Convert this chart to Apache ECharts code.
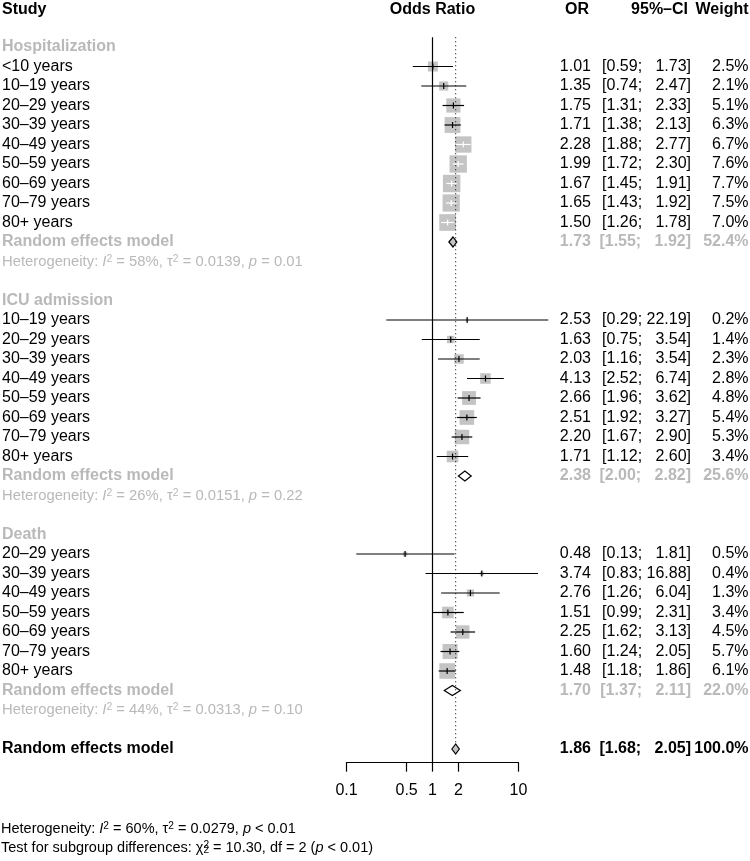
<!DOCTYPE html>
<html style="height: 100%">
<head>
    <meta charset="UTF-8">
    <title>Odds Ratio forest plot</title>
</head>
<body style="height: 100%; margin: 0; background: #fff">
    <div id="container" style="width: 750px; height: 861px"></div>

    <script src="https://cdn.jsdelivr.net/npm/echarts@6/dist/echarts.min.js"></script>

    <script type="text/javascript">
        // ---- data ----
        var groupNames = ['Hospitalization', 'ICU admission', 'Death'];

        var hospLabels = ['<10 years', '10–19 years', '20–29 years', '30–39 years', '40–49 years', '50–59 years', '60–69 years', '70–79 years', '80+ years'];
        var hospOR    = [1.01, 1.35, 1.75, 1.71, 2.28, 1.99, 1.67, 1.65, 1.50];
        var hospLower = [0.59, 0.74, 1.31, 1.38, 1.88, 1.72, 1.45, 1.43, 1.26];
        var hospUpper = [1.73, 2.47, 2.33, 2.13, 2.77, 2.30, 1.91, 1.92, 1.78];
        var hospWeight = [2.5, 2.1, 5.1, 6.3, 6.7, 7.6, 7.7, 7.5, 7.0];

        var icuLabels = ['10–19 years', '20–29 years', '30–39 years', '40–49 years', '50–59 years', '60–69 years', '70–79 years', '80+ years'];
        var icuOR    = [2.53, 1.63, 2.03, 4.13, 2.66, 2.51, 2.20, 1.71];
        var icuLower = [0.29, 0.75, 1.16, 2.52, 1.96, 1.92, 1.67, 1.12];
        var icuUpper = [22.19, 3.54, 3.54, 6.74, 3.62, 3.27, 2.90, 2.60];
        var icuWeight = [0.2, 1.4, 2.3, 2.8, 4.8, 5.4, 5.3, 3.4];

        var deathLabels = ['20–29 years', '30–39 years', '40–49 years', '50–59 years', '60–69 years', '70–79 years', '80+ years'];
        var deathOR    = [0.48, 3.74, 2.76, 1.51, 2.25, 1.60, 1.48];
        var deathLower = [0.13, 0.83, 1.26, 0.99, 1.62, 1.24, 1.18];
        var deathUpper = [1.81, 16.88, 6.04, 2.31, 3.13, 2.05, 1.86];
        var deathWeight = [0.5, 0.4, 1.3, 3.4, 4.5, 5.7, 6.1];

        // subgroup random effects models
        var reOR     = [1.73, 2.38, 1.70];
        var reLower  = [1.55, 2.00, 1.37];
        var reUpper  = [1.92, 2.82, 2.11];
        var reWeight = [52.4, 25.6, 22.0];
        var hetI2    = ['58%', '26%', '44%'];
        var hetTau2  = ['0.0139', '0.0151', '0.0313'];
        var hetP     = ['= 0.01', '= 0.22', '= 0.10'];

        // overall model
        var allOR = 1.86, allLower = 1.68, allUpper = 2.05, allWeight = 100.0;
        var allI2 = '60%', allTau2 = '0.0279', allP = '< 0.01';
        var subgroupChi2 = '10.30', subgroupDf = '2', subgroupP = '< 0.01';

        var xTicks = [0.1, 0.5, 1, 2, 10];

        // ---- build the rows ----
        var groups = [
            {labels: hospLabels, or: hospOR, lo: hospLower, hi: hospUpper, w: hospWeight},
            {labels: icuLabels, or: icuOR, lo: icuLower, hi: icuUpper, w: icuWeight},
            {labels: deathLabels, or: deathOR, lo: deathLower, hi: deathUpper, w: deathWeight}
        ];

        var rows = [];
        var studyData = [];
        var diamondData = [];
        var r = 0;
        groups.forEach(function (g, gi) {
            rows.push({row: r++, type: 'heading', label: groupNames[gi]});
            g.labels.forEach(function (lab, i) {
                rows.push({row: r, type: 'study', label: lab, or: g.or[i], lo: g.lo[i], hi: g.hi[i], w: g.w[i]});
                studyData.push([g.or[i], g.lo[i], g.hi[i], g.w[i], r]);
                r++;
            });
            rows.push({row: r, type: 'pooled', label: 'Random effects model', or: reOR[gi], lo: reLower[gi], hi: reUpper[gi], w: reWeight[gi]});
            diamondData.push([reOR[gi], reLower[gi], reUpper[gi], r, gi === 0 ? 1 : 0]);
            r++;
            rows.push({row: r++, type: 'het', gi: gi});
            r++;
        });
        rows.push({row: r, type: 'overall', label: 'Random effects model', or: allOR, lo: allLower, hi: allUpper, w: allWeight});
        diamondData.push([allOR, allLower, allUpper, r, 1]);
        var overallRow = r;
        rows.push({row: -1.93, type: 'header'});
        rows.push({row: overallRow + 4.1, type: 'foot1'});
        rows.push({row: overallRow + 5.08, type: 'foot2'});

        var FONT = "'Liberation Sans', Arial, Helvetica, sans-serif";
        var GRAY = '#b9b9b9';
        var SQUARE = '#c4c4c4';
        var HET_FS = 14.8;
        var FOOT_FS = 14.5;

        function pad(v, n) {
            var s = v.toFixed(2);
            while (s.length < n) s = '  ' + s;
            return s;
        }
        function fmtCI(lo, hi) {
            return '[' + pad(lo, 4) + '; ' + pad(hi, 5) + ']';
        }

        function txt(x, y, text, align, color, bold, size) {
            return {
                type: 'text', x: x, y: y,
                style: {
                    text: text, fill: color, align: align, verticalAlign: 'middle',
                    fontFamily: FONT, fontSize: size || 16, fontWeight: bold ? 'bold' : 'normal'
                }
            };
        }

        function richTxt(x, y, text, color, size) {
            return {
                type: 'text', x: x, y: y,
                style: {
                    text: text, fill: color, align: 'left', verticalAlign: 'middle',
                    fontFamily: FONT, fontSize: size,
                    rich: {
                        n: {fontFamily: FONT, fontSize: size, fill: color},
                        i: {fontFamily: FONT, fontSize: size, fill: color, fontStyle: 'italic'},
                        sup: {fontFamily: FONT, fontSize: size * 0.7, fill: color, verticalAlign: 'top'},
                        sup0: {fontFamily: FONT, fontSize: size * 0.7, fill: color, verticalAlign: 'top', width: 0},
                        sub: {fontFamily: FONT, fontSize: size * 0.7, fill: color, verticalAlign: 'bottom'}
                    }
                }
            };
        }

        function hetString(i2, tau2, p) {
            return '{n|Heterogeneity: }{i|I}{sup|2}{n| = ' + i2 + ', τ}{sup|2}{n| = ' + tau2 + ', }{i|p}{n| ' + p + '}';
        }

        var COL_OR = 591, COL_CI = 691, COL_W = 748.5, COL_LAB = 2;

        function renderText(params, api) {
            var d = rows[params.dataIndex];
            var y = api.coord([1, d.row])[1];
            var kids = [];
            if (d.type === 'header') {
                kids.push(txt(COL_LAB, y, 'Study', 'left', '#000', true));
                kids.push(txt(api.coord([1, d.row])[0], y, 'Odds Ratio', 'center', '#000', true));
                kids.push(txt(COL_OR - 2, y, 'OR', 'right', '#000', true));
                kids.push(txt(COL_CI - 3, y, '95%–CI', 'right', '#000', true));
                kids.push(txt(COL_W, y, 'Weight', 'right', '#000', true));
            } else if (d.type === 'heading') {
                kids.push(txt(COL_LAB, y, d.label, 'left', GRAY, true));
            } else if (d.type === 'het') {
                kids.push(richTxt(COL_LAB, y, hetString(hetI2[d.gi], hetTau2[d.gi], hetP[d.gi]), GRAY, HET_FS));
            } else if (d.type === 'foot1') {
                kids.push(richTxt(COL_LAB - 1, y, hetString(allI2, allTau2, allP), '#000', FOOT_FS));
            } else if (d.type === 'foot2') {
                kids.push(richTxt(COL_LAB - 1, y, '{n|Test for subgroup differences: χ}{sup0|2}{sub|' + subgroupDf +
                    '}{n| = ' + subgroupChi2 + ', df = ' + subgroupDf + ' (}{i|p}{n| ' + subgroupP + ')}', '#000', FOOT_FS));
            } else {
                var color = d.type === 'pooled' ? GRAY : '#000';
                var bold = d.type !== 'study';
                kids.push(txt(COL_LAB, y, d.label, 'left', color, bold));
                kids.push(txt(COL_OR, y, d.or.toFixed(2), 'right', color, bold));
                kids.push(txt(COL_CI, y, fmtCI(d.lo, d.hi), 'right', color, bold));
                kids.push(txt(COL_W, y, d.w.toFixed(1) + '%', 'right', color, bold));
            }
            return {type: 'group', children: kids};
        }

        function renderStudy(params, api) {
            var c = api.coord([api.value(0), api.value(4)]);
            var xLo = api.coord([api.value(1), api.value(4)])[0];
            var xHi = api.coord([api.value(2), api.value(4)])[0];
            var side = 6.3 * Math.sqrt(api.value(3));
            var half = side / 2;
            var inside = xLo >= c[0] - half && xHi <= c[0] + half;
            var lc = inside ? '#fff' : '#000';
            return {
                type: 'group',
                children: [
                    {type: 'rect', shape: {x: c[0] - half, y: c[1] - half, width: side, height: side}, style: {fill: SQUARE}},
                    {type: 'line', shape: {x1: xLo, y1: c[1], x2: xHi, y2: c[1]}, style: {stroke: lc, lineWidth: 1.2}},
                    {type: 'line', shape: {x1: c[0], y1: c[1] - 3, x2: c[0], y2: c[1] + 3}, style: {stroke: lc, lineWidth: 1.2}}
                ]
            };
        }

        function renderDiamond(params, api) {
            var c = api.coord([api.value(0), api.value(3)]);
            var xLo = api.coord([api.value(1), api.value(3)])[0];
            var xHi = api.coord([api.value(2), api.value(3)])[0];
            var h = 5;
            return {
                type: 'polygon',
                shape: {points: [[xLo, c[1]], [c[0], c[1] - h], [xHi, c[1]], [c[0], c[1] + h]]},
                style: {fill: api.value(4) ? SQUARE : '#fff', stroke: '#000', lineWidth: 1.2}
            };
        }

        var dom = document.getElementById('container');
        var myChart = echarts.init(dom, null, {renderer: 'canvas'});

        var option = {
            animation: false,
            backgroundColor: '#fff',
            grid: {left: 346.5, right: 231.5, top: 37.25, bottom: 98.35, outerBoundsMode: 'none'},
            xAxis: {
                type: 'log', logBase: 10, min: 0.1, max: 10, position: 'bottom',
                splitLine: {show: false},
                axisLine: {onZero: false, lineStyle: {color: '#000', width: 1.2}},
                axisTick: {customValues: xTicks, length: 9, lineStyle: {color: '#000', width: 1.2}},
                axisLabel: {
                    customValues: xTicks, margin: 20, color: '#000', fontSize: 16, fontFamily: FONT,
                    formatter: function (v) { return String(+(+v).toPrecision(2)); }
                }
            },
            yAxis: {type: 'value', inverse: true, min: -0.5, max: overallRow + 0.7, show: false},
            series: [
                {
                    type: 'line', silent: true, symbol: 'none',
                    data: [[allOR, -0.5], [allOR, overallRow - 0.26]],
                    lineStyle: {color: '#000', width: 1, type: [1, 3]},
                    markLine: {
                        silent: true, symbol: 'none', label: {show: false},
                        lineStyle: {color: '#000', width: 1.2, type: 'solid'},
                        data: [{xAxis: 1}]
                    }
                },
                {
                    type: 'custom', renderItem: renderStudy, clip: false, silent: true,
                    dimensions: ['or', 'lo', 'hi', 'w', 'row'],
                    encode: {x: 0, y: 4},
                    data: studyData
                },
                {
                    type: 'custom', renderItem: renderDiamond, clip: false, silent: true,
                    encode: {x: 0, y: 3},
                    data: diamondData
                },
                {
                    type: 'custom', renderItem: renderText, clip: false, silent: true,
                    encode: {x: 0, y: 1},
                    data: rows.map(function (d) { return [1, d.row]; })
                }
            ]
        };

        myChart.setOption(option);
    </script>
</body>
</html>
